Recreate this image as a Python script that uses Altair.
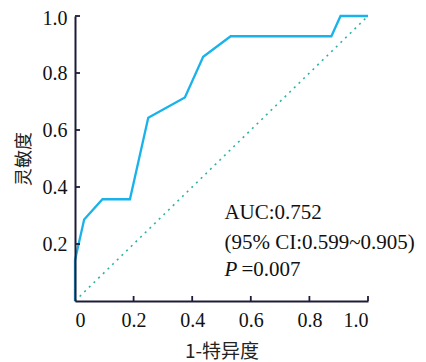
import altair as alt
import pandas as pd

# ROC curve points (1-specificity, sensitivity)
fpr = [0.0, 0.0, 0.03125, 0.09375, 0.1875, 0.25, 0.375, 0.4375, 0.53125, 0.875, 0.90625, 1.0]
tpr = [0.0, 0.143, 0.286, 0.357, 0.357, 0.643, 0.714, 0.857, 0.929, 0.929, 1.0, 1.0]

diag_x = [0.0, 1.0]
diag_y = [0.0, 1.0]

x_ticks = [0.0, 0.2, 0.4, 0.6, 0.8, 1.0]
y_ticks = [0.2, 0.4, 0.6, 0.8, 1.0]

ann_text = ["AUC:0.752", "(95% CI:0.599~0.905)"]
ann_x = [0.51, 0.51]
ann_y = [0.31, 0.205]
p_label = ["P"]
p_value = ["=0.007"]
p_y = [0.108]

x_title = "1-特异度"
y_title = "灵敏度"

AXIS_COLOR = "#1c1c3a"
ROC_COLOR = "#1ab2ea"
DIAG_COLOR = "#2bb3a3"
SERIF = "Liberation Serif, Times New Roman, serif"
CJK = "Noto Sans CJK SC"

roc_df = pd.DataFrame({"fpr": fpr, "tpr": tpr, "order": list(range(len(fpr)))})
diag_df = pd.DataFrame({"fpr": diag_x, "tpr": diag_y})
xt_df = pd.DataFrame({"t": x_ticks[1:]})
yt_df = pd.DataFrame({"t": y_ticks})
ann_df = pd.DataFrame({"x": ann_x, "y": ann_y, "text": ann_text})
p_df = pd.DataFrame({"x": [ann_x[0]], "y": p_y, "p": p_label, "v": p_value})

xscale = alt.Scale(domain=[0, 1], nice=False, zero=False)
yscale = alt.Scale(domain=[0, 1], nice=False, zero=False)

xaxis = alt.Axis(
    values=x_ticks,
    labelExpr="datum.value == 0 ? '0' : format(datum.value, '.1f')",
    title=x_title,
    ticks=False,
    grid=False,
    labelPadding=9,
    titlePadding=12,
    zindex=1,
    labelFont=SERIF,
    labelFontSize=20,
    labelColor="#111111",
    titleFont=CJK,
    titleFontSize=19,
    titleFontWeight="normal",
    titleColor="#222222",
)
yaxis = alt.Axis(
    values=y_ticks,
    format=".1f",
    title=y_title,
    ticks=False,
    grid=False,
    labelPadding=8,
    titlePadding=9,
    zindex=1,
    labelFont=SERIF,
    labelFontSize=20,
    labelColor="#111111",
    labelOffset={"condition": {"test": "datum.value >= 0.99", "value": 2}, "value": 0},
    titleFont=CJK,
    titleFontSize=18,
    titleFontWeight="normal",
    titleColor="#222222",
)

diag = alt.Chart(diag_df).mark_line(
    color=DIAG_COLOR, strokeWidth=1.6, strokeDash=[2, 4.5]
).encode(
    x=alt.X("fpr:Q", scale=xscale, axis=xaxis),
    y=alt.Y("tpr:Q", scale=yscale, axis=yaxis),
)

roc = alt.Chart(roc_df).mark_line(color=ROC_COLOR, strokeWidth=2.3).encode(
    x=alt.X("fpr:Q", scale=xscale),
    y=alt.Y("tpr:Q", scale=yscale),
    order="order:Q",
)

xt = alt.Chart(xt_df).mark_rule(color=AXIS_COLOR, strokeWidth=1.8).encode(
    x=alt.X("t:Q", scale=xscale),
    y=alt.value(285),
    y2=alt.value(280),
)
yt = alt.Chart(yt_df).mark_rule(color=AXIS_COLOR, strokeWidth=1.8).encode(
    y=alt.Y("t:Q", scale=yscale),
    x=alt.value(0),
    x2=alt.value(5),
)

ann = alt.Chart(ann_df).mark_text(
    align="left", baseline="middle", font=SERIF, fontSize=21, color="#111111"
).encode(
    x=alt.X("x:Q", scale=xscale),
    y=alt.Y("y:Q", scale=yscale),
    text="text:N",
)
p1 = alt.Chart(p_df).mark_text(
    align="left", baseline="middle", font=SERIF, fontSize=21, fontStyle="italic", color="#111111"
).encode(
    x=alt.X("x:Q", scale=xscale),
    y=alt.Y("y:Q", scale=yscale),
    text="p:N",
)
p2 = alt.Chart(p_df).mark_text(
    align="left", baseline="middle", font=SERIF, fontSize=21, dx=17, color="#111111"
).encode(
    x=alt.X("x:Q", scale=xscale),
    y=alt.Y("y:Q", scale=yscale),
    text="v:N",
)

chart = alt.layer(diag, roc, xt, yt, ann, p1, p2).properties(
    width=293,
    height=285,
    autosize=alt.AutoSizeParams(type="none"),
    padding={"left": 67, "top": 8, "right": 50, "bottom": 61},
).configure_view(stroke=None).configure_axis(
    domainColor=AXIS_COLOR,
    domainWidth=2,
)

chart.save("out.html", embed_options={"renderer": "svg", "actions": False})
